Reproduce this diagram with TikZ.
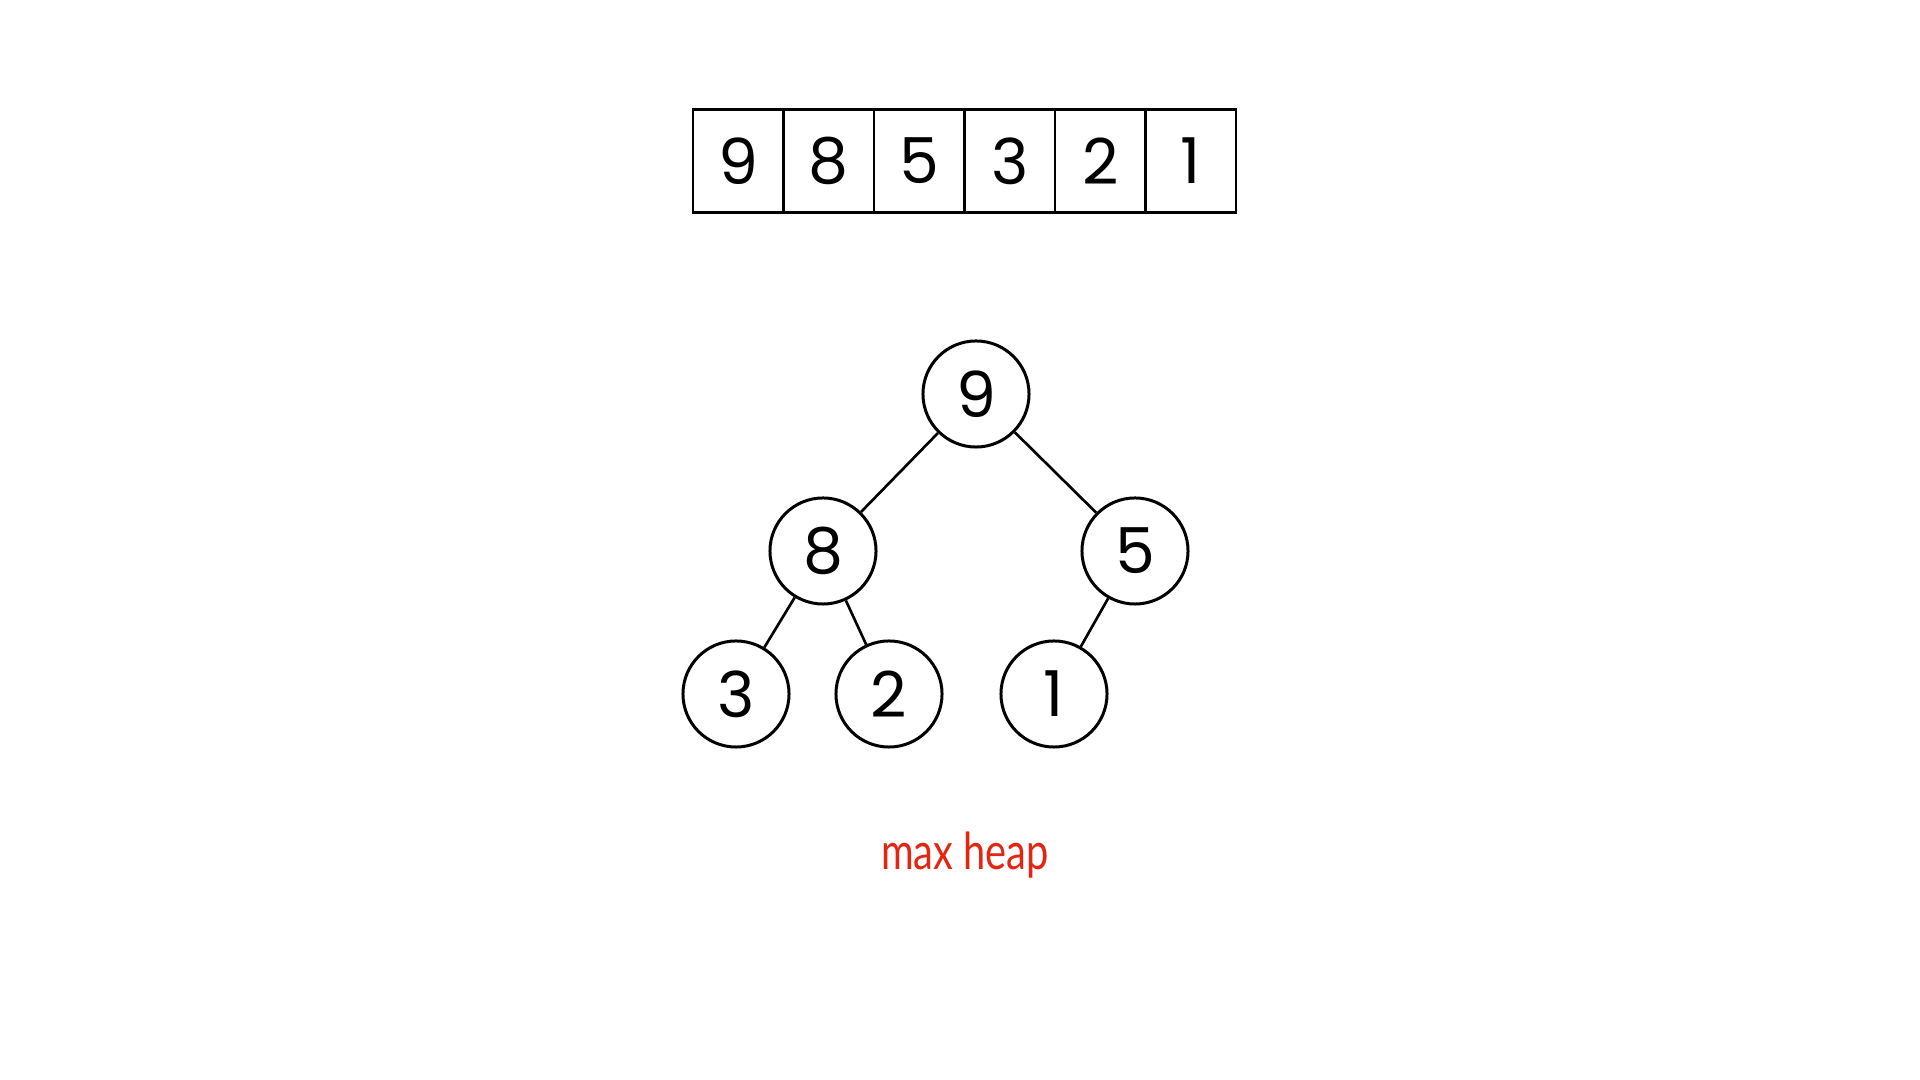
\documentclass[tikz,border=0pt]{standalone}
\usepackage{fontspec}
\setmainfont{Poppins}
\newfontfamily\labelfont[FakeStretch=0.78]{Lato}
\definecolor{heapred}{RGB}{226,38,18}
\tikzset{
  cell/.style={draw, line width=0.65pt, minimum width=0.905cm, minimum height=1.03cm,
    inner sep=0pt, font=\fontsize{18}{18}\selectfont},
  heapnode/.style={draw, circle, line width=0.85pt, minimum size=1.06cm,
    inner sep=0pt, font=\fontsize{18}{18}\selectfont},
  edge/.style={line width=0.75pt},
}
\begin{document}
\begin{tikzpicture}[x=0.01cm, y=-0.01cm]
  \useasboundingbox (0,0) rectangle (1920,1080);

  % array
  \foreach \v [count=\i] in {9,8,5,3,2,1} {
    \node[cell] (c\i) at ({693+45.25+90.5*(\i-1)}, 161) {\v};
  }

  % tree
  \node[heapnode] (n9) at (976,394) {9};
  \node[heapnode] (n8) at (823,551) {8};
  \node[heapnode] (n5) at (1135,551) {5};
  \node[heapnode] (n3) at (736,694) {3};
  \node[heapnode] (n2) at (889,694) {2};
  \node[heapnode] (n1) at (1054,694) {1};
  \draw[edge] (n9) -- (n8);
  \draw[edge] (n9) -- (n5);
  \draw[edge] (n8) -- (n3);
  \draw[edge] (n8) -- (n2);
  \draw[edge] (n5) -- (n1);

  \node[text=heapred, font=\labelfont\fontsize{14.5}{14.5}\selectfont] (lbl)
    at (965,855) {max heap};
\end{tikzpicture}
\end{document}
